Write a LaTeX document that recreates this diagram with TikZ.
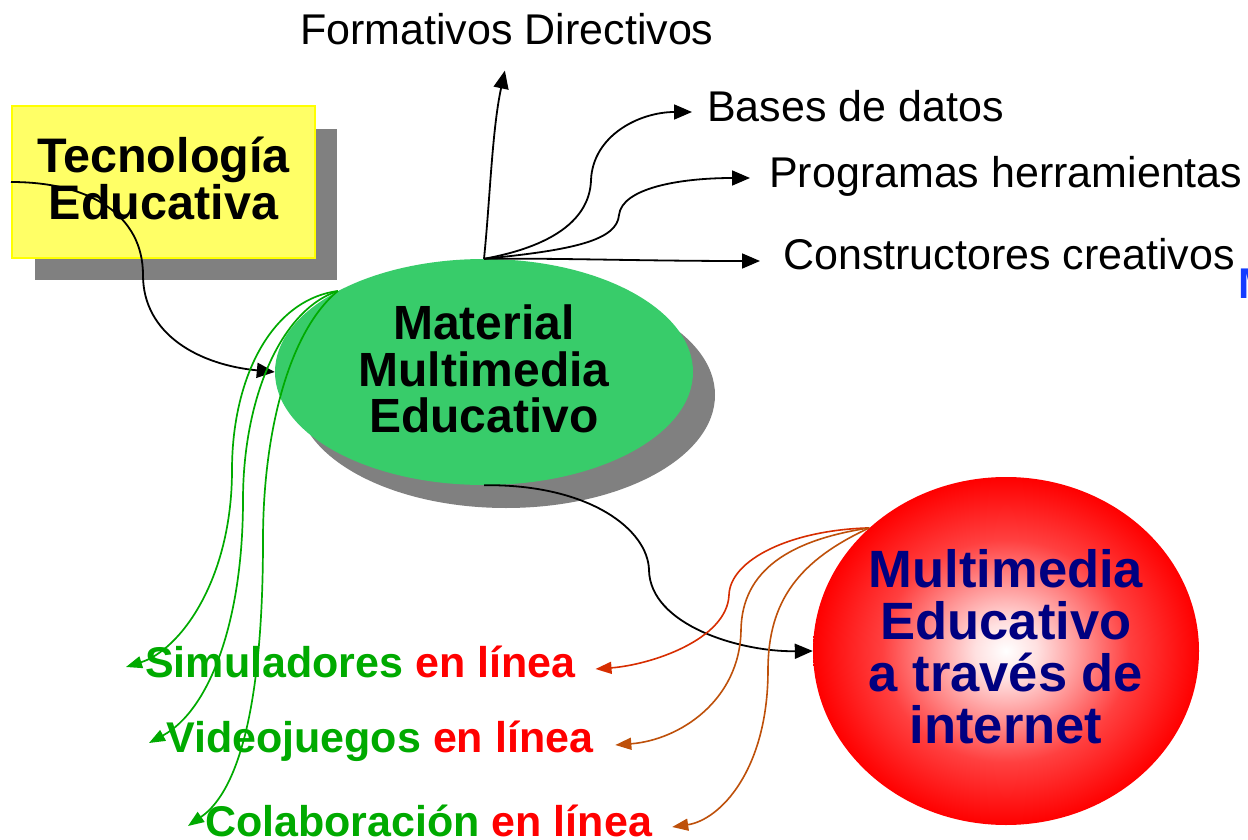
\documentclass[tikz,border=0pt]{standalone}
\usepackage{fontspec}
\setmainfont{Liberation Sans}
\usetikzlibrary{arrows.meta,shapes.geometric}
\definecolor{ellgreen}{RGB}{56,204,106}
\definecolor{boxyellow}{RGB}{255,255,102}
\definecolor{boxborder}{RGB}{255,255,0}
\definecolor{shadowgray}{RGB}{128,128,128}
\definecolor{txtgreen}{RGB}{0,170,0}
\definecolor{txtred}{RGB}{255,0,0}
\definecolor{navytxt}{RGB}{0,0,128}
\definecolor{lineorange}{RGB}{215,45,0}
\definecolor{linebrown}{RGB}{190,80,10}
\definecolor{edgeblue}{RGB}{20,60,255}
\newcommand{\myfs}[2]{\fontsize{#1}{#2}\selectfont}
\pgfdeclareradialshading{redball}{\pgfpoint{0bp}{0bp}}{color(0bp)=(white); color(4bp)=(red!12); color(16bp)=(red!75); color(25bp)=(red); color(50bp)=(red)}
\begin{document}
\begin{tikzpicture}[x=1pt,y=-1pt,
  blackarrow/.style={draw=black,line width=1.8pt,-{Triangle[length=18pt,width=15pt]}},
  greenarrow/.style={draw=txtgreen,line width=1.7pt,-{Triangle[length=16pt,width=12pt]}},
  orangearrow/.style={draw=lineorange,line width=1.6pt,-{Triangle[length=16pt,width=12pt]}},
  brownarrow/.style={draw=linebrown,line width=1.6pt,-{Triangle[length=16pt,width=12pt]}},
  plainlabel/.style={inner sep=0pt,anchor=base west,font=\myfs{43}{45}},
  boldlabel/.style={inner sep=0pt,anchor=base west,font=\myfs{43}{45}\bfseries},
  bigbold/.style={align=center,font=\myfs{48.5}{47}\bfseries}
]
\useasboundingbox (0,0) rectangle (1248,840);
\fill[white] (0,0) rectangle (1248,840);

% shadows
\fill[shadowgray] (35,129) rectangle (337,280);
\fill[shadowgray] (506,395) ellipse [x radius=209, y radius=113];

% main shapes
\node[draw=boxborder,line width=2pt,fill=boxyellow,minimum width=303pt,minimum height=152pt,inner sep=0pt] (tec) at (163.5,182) {};
\node[bigbold] (tectxt) at (163.5,178) {Tecnología\\Educativa};

\node[ellipse,fill=ellgreen,minimum width=418pt,minimum height=226pt,inner sep=0pt] (mat) at (484,372) {};
\node[align=center,font=\myfs{48}{46.5}\bfseries] (mattxt) at (484,369) {Material\\Multimedia\\Educativo};

\node[ellipse,shading=redball,minimum width=386pt,minimum height=348pt,inner sep=0pt] (red) at (1006,651) {};
\node[align=center,text=navytxt,font=\myfs{52.5}{52}\bfseries] (redtxt) at (1006,647) {Multimedia\\Educativo\\a través de\\internet};

% top-right labels
\node[plainlabel] (form) at (300,45) {Formativos Directivos};
\node[plainlabel] (bases) at (707,122) {Bases de datos};
\node[plainlabel] (prog) at (769,188) {Programas herramientas};
\node[plainlabel] (cons) at (783,269) {Constructores creativos};
\node[boldlabel,text=edgeblue] (edge) at (1238,298) {M};

% bottom labels
\node[boldlabel] (sim) at (145,677) {\textcolor{txtgreen}{Simuladores} \textcolor{txtred}{en línea}};
\node[boldlabel] (vid) at (166,752) {\textcolor{txtgreen}{Videojuegos} \textcolor{txtred}{en línea}};
\node[boldlabel] (col) at (205,836) {\textcolor{txtgreen}{Colaboración} \textcolor{txtred}{en línea}};

% connectors: Tecnologia -> Material
\draw[blackarrow] (tec.west) .. controls (90,182) and (143,215) .. (143,275)
  .. controls (143,335) and (200,365) .. (mat.west);

% Material -> top labels
\draw[blackarrow] (mat.north) .. controls (490,200) and (492,130) .. ([xshift=-2pt,yshift=-25pt]form.south);
\draw[blackarrow] (mat.north) .. controls (560,245) and (590,215) .. (591,180)
  .. controls (593,135) and (640,112) .. ([xshift=-15pt,yshift=10pt]bases.base west);
\draw[blackarrow] (mat.north) .. controls (575,250) and (617,240) .. (619,215)
  .. controls (622,188) and (680,178) .. ([xshift=-19pt,yshift=10pt]prog.base west);
\draw[blackarrow] (mat.north) .. controls (560,258) and (640,261) .. ([xshift=-23pt,yshift=8pt]cons.base west);

% Material -> Multimedia via internet
\draw[blackarrow] (mat.south) .. controls (590,484) and (648,530) .. (649,570)
  .. controls (650,625) and (740,652) .. (red.west);

% green arrows
\draw[greenarrow] (mat.151) .. controls (270,300) and (232,380) .. (232,470)
  .. controls (232,580) and (180,650) .. ([xshift=-19pt,yshift=10pt]sim.base west);
\draw[greenarrow] (mat.151) .. controls (280,310) and (243,400) .. (243,500)
  .. controls (243,620) and (210,710) .. ([xshift=-17pt,yshift=9pt]vid.base west);
\draw[greenarrow] (mat.151) .. controls (290,330) and (263,430) .. (263,540)
  .. controls (263,700) and (240,790) .. ([xshift=-17pt,yshift=10pt]col.base west);

% red/brown arrows
\draw[orangearrow] (red.138) .. controls (790,530) and (730,560) .. (729,595)
  .. controls (727,640) and (650,665) .. ([xshift=20pt,yshift=8pt]sim.base east);
\draw[brownarrow] (red.138) .. controls (790,540) and (742,570) .. (741,630)
  .. controls (740,700) and (680,740) .. ([xshift=22pt,yshift=7pt]vid.base east);
\draw[brownarrow] (red.138) .. controls (800,560) and (768,600) .. (768,670)
  .. controls (768,770) and (720,820) .. ([xshift=20pt,yshift=9pt]col.base east);
\end{tikzpicture}
\end{document}
